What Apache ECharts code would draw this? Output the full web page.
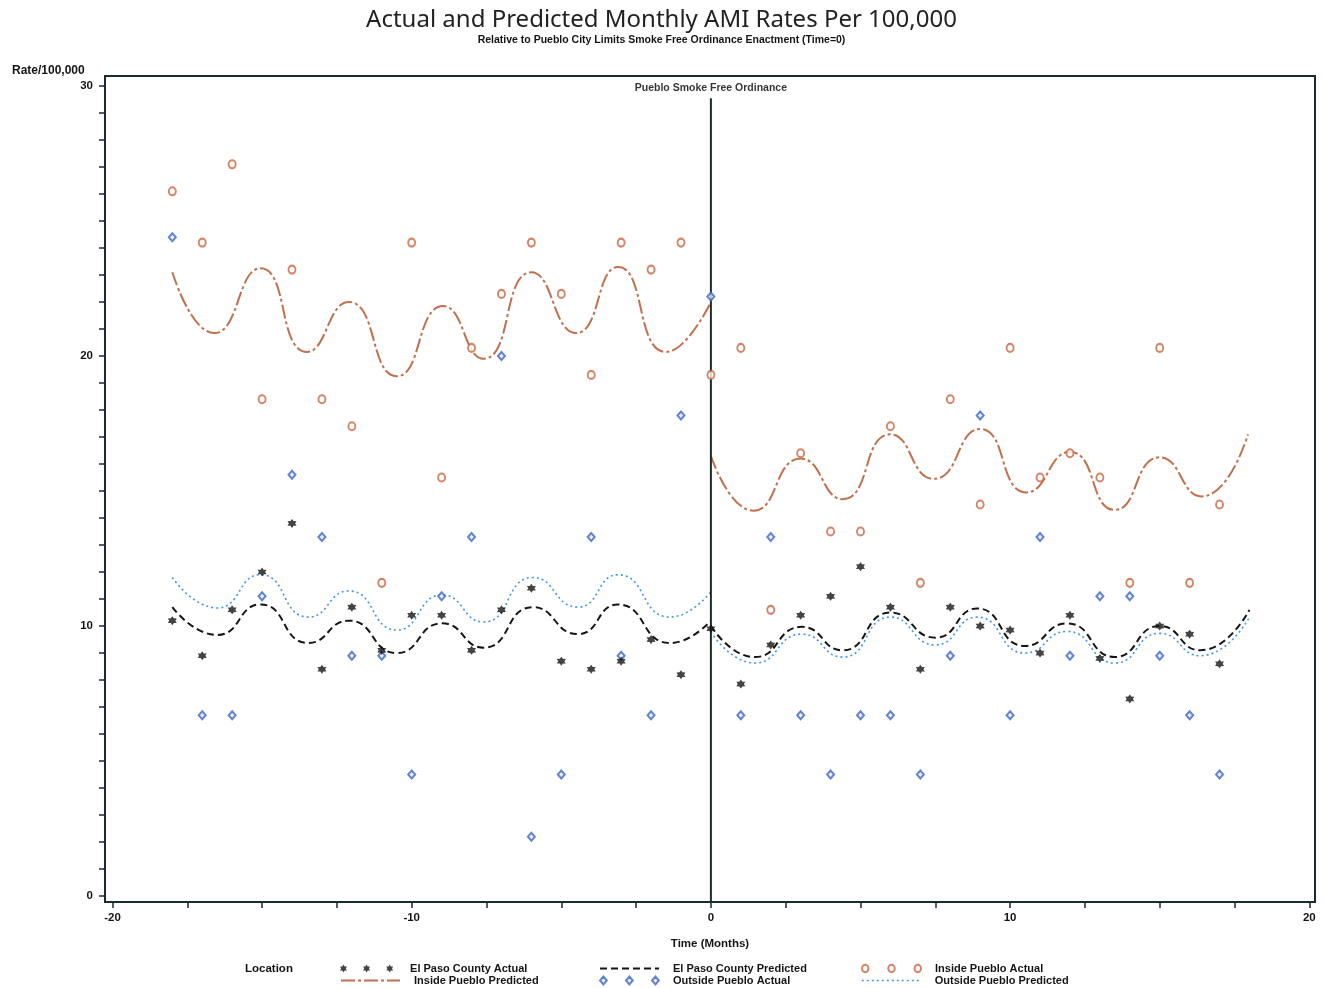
<!DOCTYPE html>
<html><head><meta charset="utf-8">
<script src="https://cdn.jsdelivr.net/npm/echarts@6/dist/echarts.min.js"></script>
<style>html,body{margin:0;padding:0;background:#fff}#c{width:1323px;height:988px}</style>
</head><body><div id="c"></div>
<script>
// ---------- DATA ----------
const months = [-18,-17,-16,-15,-14,-13,-12,-11,-10,-9,-8,-7,-6,-5,-4,-3,-2,-1,0,1,2,3,4,5,6,7,8,9,10,11,12,13,14,15,16,17];
const elPasoActual = [10.2,8.9,10.6,12.0,13.8,8.4,10.7,9.1,10.4,10.4,9.1,10.6,11.4,8.7,8.4,8.7,9.5,8.2,9.9,7.85,9.3,10.4,11.1,12.2,10.7,8.4,10.7,10.0,9.85,9.0,10.4,8.8,7.3,10.0,9.7,8.6];
const insideActual = [26.1,24.2,27.1,18.4,23.2,18.4,17.4,11.6,24.2,15.5,20.3,22.3,24.2,22.3,19.3,24.2,23.2,24.2,19.3,20.3,10.6,16.4,13.5,13.5,17.4,11.6,18.4,14.5,20.3,15.5,16.4,15.5,11.6,20.3,11.6,14.5];
const outsideActual = [24.4,6.7,6.7,11.1,15.6,13.3,8.9,8.9,4.5,11.1,13.3,20.0,2.2,4.5,13.3,8.9,6.7,17.8,22.2,6.7,13.3,6.7,4.5,6.7,6.7,4.5,8.9,17.8,6.7,13.3,8.9,11.1,11.1,8.9,6.7,4.5];

const elPasoPredPre = [[-18,10.7],[-16.5,9.67],[-15.05,10.8],[-13.45,9.37],[-12.1,10.2],[-10.5,9.0],[-8.98,10.1],[-7.6,9.2],[-5.95,10.7],[-4.45,9.7],[-3.1,10.8],[-1.37,9.37],[0,10.2]];
const elPasoPredPost = [[0,10.0],[1.47,8.85],[3.04,9.97],[4.4,9.1],[6.0,10.5],[7.5,9.57],[8.9,10.65],[10.5,9.26],[11.9,10.1],[13.5,8.85],[15.0,10.0],[16.35,9.1],[18.0,10.6]];
const insidePredPre = [[-18,23.1],[-16.6,20.85],[-15.05,23.25],[-13.5,20.15],[-12.1,22.0],[-10.5,19.25],[-8.95,21.85],[-7.6,19.9],[-6.0,23.1],[-4.5,20.85],[-3.1,23.3],[-1.5,20.15],[0,22.0]];
const insidePredPost = [[0,16.3],[1.43,14.27],[3.0,16.2],[4.4,14.7],[6.0,17.1],[7.45,15.45],[9.0,17.3],[10.55,14.95],[12.0,16.45],[13.5,14.3],[15.0,16.25],[16.4,14.8],[17.95,17.1]];
const outsidePredPre = [[-18,11.8],[-16.5,10.67],[-15.05,11.9],[-13.45,10.33],[-12.1,11.3],[-10.5,9.85],[-8.98,11.15],[-7.6,10.15],[-5.95,11.8],[-4.45,10.7],[-3.1,11.9],[-1.37,10.33],[0,11.27]];
const outsidePredPost = [[0,9.78],[1.47,8.63],[3.04,9.7],[4.4,8.85],[6.0,10.33],[7.5,9.3],[8.9,10.33],[10.5,9.0],[11.9,9.8],[13.5,8.63],[15.0,9.73],[16.35,8.9],[18.0,10.33]];

const ordinanceLine = [[0,-0.22],[0,29.55]];
const ordinanceLabelPos = [[0,29.55]];
const xTickLabels = [-20,-10,0,10,20];
const xTicks = [-20,-17.5,-15,-12.5,-10,-7.5,-5,-2.5,0,2.5,5,7.5,10,12.5,15,17.5,20];
const yTickLabels = [0,10,20,30];

// ---------- STYLE ----------
const C_BLACK = '#151515';
const C_ORANGE = '#cb6540';
const C_ORANGE_LINE = '#c0704c';
const C_BLUE = '#3569c9';
const C_BLUE_FILL = '#f6e4ea';
const C_BLUE_LINE = '#4296e6';
const C_FRAME = '#1b2c2e';
const FONT = 'Liberation Sans, Arial, sans-serif';

const yTicks = [];
for (let v = 0; v <= 30; v++) yTicks.push(v);

function starShape(cx, cy, ro, ri){
  let p = '';
  for(let i=0;i<12;i++){
    const a = -Math.PI/2 + i*Math.PI/6;
    const r = (i%2===0)?ro:ri;
    p += (i===0?'M':'L') + (cx + r*Math.cos(a)).toFixed(2) + ' ' + (cy + r*Math.sin(a)).toFixed(2);
  }
  return p + 'Z';
}
const STAR = 'path://' + starShape(10, 10, 10, 6);
function starsPath(){
  let p = 'path://';
  [4,30,56].forEach(cx=>{ p += starShape(cx, 4.5, 4.5, 2.6); });
  return p;
}
function ringsPath(){
  let p = 'path://';
  [3.5,29.5,55.5].forEach(cx=>{
    p += 'M'+(cx-3.2)+' 4A3.2 3.6 0 1 0 '+(cx+3.2)+' 4A3.2 3.6 0 1 0 '+(cx-3.2)+' 4Z';
  });
  return p;
}
function diamondsPath(){
  let p = 'path://';
  [3.5,29.5,55.5].forEach(cx=>{
    p += 'M'+cx+' 0L'+(cx+3.4)+' 4L'+cx+' 8L'+(cx-3.4)+' 4Z';
  });
  return p;
}

const legendText = {fontFamily: FONT, fontSize: 11, fontWeight: 'bold', color: C_BLACK, padding: [0,0,0,9]};
function mkLegend(name, left, top, extra){
  return Object.assign({
    show: true, left: left, top: top, padding: 0, itemGap: 0,
    itemWidth: 59, itemHeight: 8, selectedMode: false,
    textStyle: legendText,
    data: [name]
  }, extra || {});
}
const hideSym = {color:'rgba(0,0,0,0)', borderWidth:0, opacity:0};

const option = {
  animation: false,
  backgroundColor: '#ffffff',
  title: [
    {text: 'Actual and Predicted Monthly AMI Rates Per 100,000', left: 'center', top: 8, padding: 0,
     textStyle: {fontFamily: 'Noto Sans, DejaVu Sans, sans-serif', fontSize: 24, fontWeight: 'normal', color: '#222'}},
    {text: 'Relative to Pueblo City Limits Smoke Free Ordinance Enactment (Time=0)', left: 'center', top: 35, padding: 0,
     textStyle: {fontFamily: FONT, fontSize: 10.5, fontWeight: 'bold', color: C_BLACK}},
    {text: 'Rate/100,000', left: 12, top: 65, padding: 0,
     textStyle: {fontFamily: FONT, fontSize: 12, fontWeight: 'bold', color: C_BLACK}},
    {text: 'Location', left: 245, top: 963, padding: 0,
     textStyle: {fontFamily: FONT, fontSize: 11.5, fontWeight: 'bold', color: C_BLACK}}
  ],
  legend: [
    mkLegend('El Paso County Actual', 340, 963, {data:[{name:'El Paso County Actual', icon: starsPath(), itemStyle:{color:C_BLACK, borderWidth:0}}]}),
    mkLegend('El Paso County Predicted', 599, 963, {itemStyle: hideSym, lineStyle:{color:C_BLACK, width:2, type:[7,4]}}),
    mkLegend('Inside Pueblo Actual', 861, 963, {data:[{name:'Inside Pueblo Actual', icon: ringsPath(), itemStyle:{color:'#fff', borderColor:C_ORANGE, borderWidth:2}}]}),
    mkLegend('Inside Pueblo Predicted', 340, 975, {itemStyle: hideSym, lineStyle:{color:C_ORANGE_LINE, width:2, type:[14,3,3,3]}}),
    mkLegend('Outside Pueblo Actual', 599, 975, {data:[{name:'Outside Pueblo Actual', icon: diamondsPath(), itemStyle:{color:C_BLUE_FILL, borderColor:C_BLUE, borderWidth:2}}]}),
    mkLegend('Outside Pueblo Predicted', 861, 975, {itemStyle: hideSym, lineStyle:{color:C_BLUE_LINE, width:1.6, type:[2,3]}})
  ],
  grid: {left: 105, right: 8, top: 76, bottom: 86, show: true, borderColor: C_FRAME, borderWidth: 2, backgroundColor: 'transparent'},
  xAxis: {
    type: 'value', min: -20.25, max: 20.19,
    name: 'Time (Months)', nameLocation: 'middle', nameGap: 36,
    nameTextStyle: {fontFamily: FONT, fontSize: 11.5, fontWeight: 'bold', color: C_BLACK},
    axisLine: {show: true, onZero: false, lineStyle: {color: C_FRAME, width: 2}},
    axisTick: {show: true, inside: false, length: 6, customValues: xTicks, lineStyle: {color: C_FRAME, width: 1.5}},
    axisLabel: {customValues: xTickLabels, margin: 10, fontFamily: FONT, fontSize: 11.5, fontWeight: 'bold', color: C_BLACK},
    splitLine: {show: false}
  },
  yAxis: {
    type: 'value', min: -0.22, max: 30.37,
    axisLine: {show: true, onZero: false, lineStyle: {color: C_FRAME, width: 2}},
    axisTick: {show: true, inside: false, length: 6, customValues: yTicks, lineStyle: {color: C_FRAME, width: 1.5}},
    axisLabel: {customValues: yTickLabels, margin: 12, fontFamily: FONT, fontSize: 11.5, fontWeight: 'bold', color: C_BLACK},
    splitLine: {show: false}
  },
  series: [
    {name: 'Ordinance', type: 'line', silent: true, symbol: 'none', z: 5,
     lineStyle: {color: C_FRAME, width: 2}, data: ordinanceLine},
    {name: 'Ordinance label', type: 'scatter', silent: true, symbolSize: 0, z: 5,
     itemStyle: {color: C_BLACK},
     label: {show: true, position: 'top', distance: 5, formatter: 'Pueblo Smoke Free Ordinance', fontFamily: FONT, fontSize: 10.5, fontWeight: 'bold', color: '#000'},
     data: ordinanceLabelPos},
    {name: 'Inside Pueblo Predicted', type: 'line', symbol: 'none', smooth: 0.55, z: 3,
     lineStyle: {color: C_ORANGE_LINE, width: 2, type: [14,3,3,3]}, itemStyle: {color: C_ORANGE_LINE}, data: insidePredPre},
    {name: 'Inside Pueblo Predicted', type: 'line', symbol: 'none', smooth: 0.55, z: 3,
     lineStyle: {color: C_ORANGE_LINE, width: 2, type: [14,3,3,3]}, itemStyle: {color: C_ORANGE_LINE}, data: insidePredPost},
    {name: 'Outside Pueblo Predicted', type: 'line', symbol: 'none', smooth: 0.55, z: 3,
     lineStyle: {color: C_BLUE_LINE, width: 1.6, type: [2,3]}, itemStyle: {color: C_BLUE_LINE}, data: outsidePredPre},
    {name: 'Outside Pueblo Predicted', type: 'line', symbol: 'none', smooth: 0.55, z: 3,
     lineStyle: {color: C_BLUE_LINE, width: 1.6, type: [2,3]}, itemStyle: {color: C_BLUE_LINE}, data: outsidePredPost},
    {name: 'El Paso County Predicted', type: 'line', symbol: 'none', smooth: 0.55, z: 3,
     lineStyle: {color: C_BLACK, width: 2, type: [7,4]}, itemStyle: {color: C_BLACK}, data: elPasoPredPre},
    {name: 'El Paso County Predicted', type: 'line', symbol: 'none', smooth: 0.55, z: 3,
     lineStyle: {color: C_BLACK, width: 2, type: [7,4]}, itemStyle: {color: C_BLACK}, data: elPasoPredPost},
    {name: 'Inside Pueblo Actual', type: 'scatter', symbol: 'circle', symbolSize: [7,8], z: 6,
     itemStyle: {color: '#fff', borderColor: C_ORANGE, borderWidth: 2},
     data: months.map((m, i) => [m, insideActual[i]])},
    {name: 'Outside Pueblo Actual', type: 'scatter', symbol: 'diamond', symbolSize: [7,8], z: 6,
     itemStyle: {color: C_BLUE_FILL, borderColor: C_BLUE, borderWidth: 2},
     data: months.map((m, i) => [m, outsideActual[i]])},
    {name: 'El Paso County Actual', type: 'scatter', symbol: STAR, symbolSize: [9,9], z: 7,
     itemStyle: {color: C_BLACK},
     data: months.map((m, i) => [m, elPasoActual[i]])}
  ]
};

const chart = echarts.init(document.getElementById('c'), null, {renderer: 'canvas'});
chart.setOption(option);
</script>
</body></html>
